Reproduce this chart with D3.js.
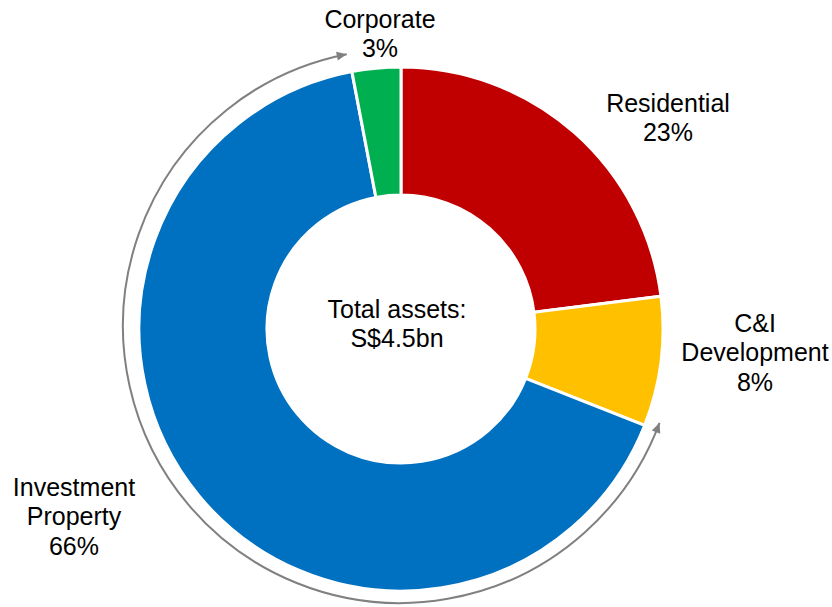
<!DOCTYPE html>
<html>
<head>
<meta charset="utf-8">
<script src="https://cdn.jsdelivr.net/npm/d3@7"></script>
<style>
  html, body { margin: 0; padding: 0; background: #fff; }
  svg { display: block; font-family: "Liberation Sans", Arial, sans-serif; }
</style>
</head>
<body>
<svg id="chart" width="832" height="607"></svg>
<script>
// Asset breakdown by segment (share of total, %)
const categories = ["Residential", "C&I Development", "Investment Property", "Corporate"];
const shares = [23, 8, 66, 3];
const colors = ["#C00000", "#FFC000", "#0070C0", "#00B050"];
const centerLines = ["Total assets:", "S$4.5bn"];

// Label text lines per segment
const labelLines = [
  ["Residential", "23%"],
  ["C&I", "Development", "8%"],
  ["Investment", "Property", "66%"],
  ["Corporate", "3%"]
];

const svg = d3.select("#chart");
const cx = 401, cy = 329;
const outerR = 262, innerR = 134;

const pie = d3.pie().sort(null).value(d => d)(shares);
const arc = d3.arc().innerRadius(innerR).outerRadius(outerR);

const g = svg.append("g").attr("transform", `translate(${cx},${cy})`);
g.selectAll("path.slice")
  .data(pie)
  .join("path")
  .attr("class", "slice")
  .attr("d", arc)
  .attr("fill", (d, i) => colors[i])
  .attr("stroke", "#fff")
  .attr("stroke-width", 3)
  .attr("stroke-linejoin", "miter");

// Double-headed arrow spanning the Investment Property segment
const defs = svg.append("defs");
defs.append("marker")
  .attr("id", "head")
  .attr("viewBox", "0 -5 10 10")
  .attr("refX", 10).attr("refY", 0)
  .attr("markerUnits", "userSpaceOnUse")
  .attr("markerWidth", 11).attr("markerHeight", 10)
  .attr("orient", "auto-start-reverse")
  .append("path")
  .attr("d", "M0,-4.5L10,0L0,4.5Z")
  .attr("fill", "#808080");

const inv = pie[2];
const arrowR = 277, acx = 400, acy = 326;
const p = d3.path();
const a0 = inv.startAngle - 0.02 - Math.PI / 2;
const a1 = inv.endAngle - 0.005 - Math.PI / 2;
p.moveTo(acx + arrowR * Math.cos(a0), acy + arrowR * Math.sin(a0));
p.arc(acx, acy, arrowR, a0, a1, false);
svg.append("path")
  .attr("d", p.toString())
  .attr("fill", "none")
  .attr("stroke", "#808080")
  .attr("stroke-width", 2)
  .attr("marker-start", "url(#head)")
  .attr("marker-end", "url(#head)");

// Segment labels: centre x per line and first baseline
const labelPos = [
  { y: 112, xs: [668, 668] },
  { y: 332, xs: [755, 755, 755] },
  { y: 496, xs: [74, 74, 74] },
  { y: 28, xs: [380, 380] }
];
const lineStep = 29.3;
const fontSize = 25;

labelLines.forEach((lines, i) => {
  const t = svg.append("text")
    .attr("text-anchor", "middle")
    .attr("font-size", fontSize)
    .attr("fill", "#000");
  lines.forEach((line, j) => {
    t.append("tspan")
      .attr("x", labelPos[i].xs[j])
      .attr("y", labelPos[i].y + j * lineStep)
      .text(line);
  });
});

// Centre caption
const ct = svg.append("text")
  .attr("text-anchor", "middle")
  .attr("font-size", fontSize)
  .attr("fill", "#000");
centerLines.forEach((line, j) => {
  ct.append("tspan")
    .attr("x", 397)
    .attr("y", 318 + j * 29)
    .text(line);
});
</script>
</body>
</html>
